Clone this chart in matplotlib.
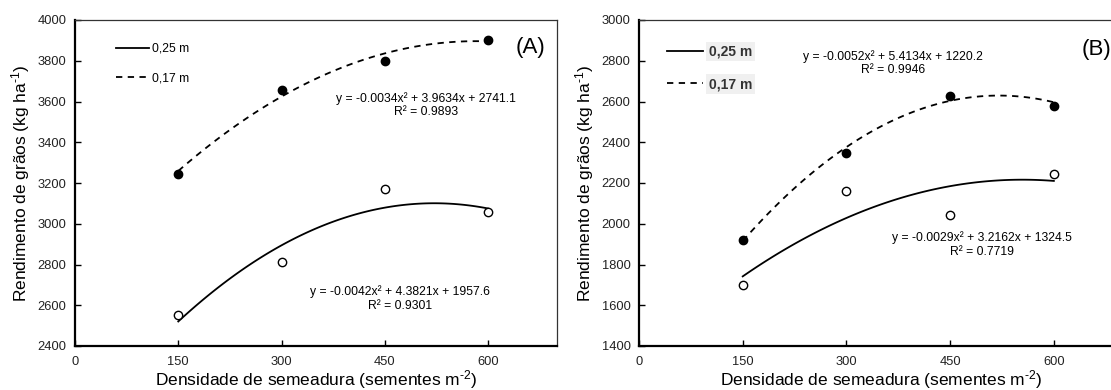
import numpy as np
import matplotlib
matplotlib.use("Agg")
import matplotlib.pyplot as plt

plt.rcParams['font.family'] = ['Liberation Sans', 'DejaVu Sans']
plt.rcParams['mathtext.fontset'] = 'custom'
plt.rcParams['mathtext.rm'] = 'Liberation Sans'
plt.rcParams['mathtext.it'] = 'Liberation Sans'

# dados
densidade = [150, 300, 450, 600]

# (A)
a_017 = [3245, 3658, 3798, 3900]
a_025 = [2550, 2812, 3172, 3060]
a_coef_017 = [-0.0034, 3.9634, 2741.1]
a_coef_025 = [-0.0042, 4.3821, 1957.6]
a_eq_017 = ["y = -0.0034x² + 3.9634x + 2741.1", "R² = 0.9893"]
a_eq_025 = ["y = -0.0042x² + 4.3821x + 1957.6", "R² = 0.9301"]

# (B)
b_017 = [1922, 2347, 2626, 2580]
b_025 = [1697, 2159, 2045, 2246]
b_coef_017 = [-0.0052, 5.4134, 1220.2]
b_coef_025 = [-0.0029, 3.2162, 1324.5]
b_eq_017 = ["y = -0.0052x² + 5.4134x + 1220.2", "R² = 0.9946"]
b_eq_025 = ["y = -0.0029x² + 3.2162x + 1324.5", "R² = 0.7719"]

xticks = [0, 150, 300, 450, 600]
ylab = r'Rendimento de grãos (kg ha$^{\text{-}1}$)'
xlab = r'Densidade de semeadura (sementes m$^{\text{-}2}$)'

W, H = 1111, 390
fig = plt.figure(figsize=(W / 100, H / 100), dpi=100)

ax_a = fig.add_axes([75 / W, 44 / H, 482 / W, 326 / H])
ax_b = fig.add_axes([639 / W, 44 / H, 484 / W, 326 / H])

DASH = (3.5, 3)


def draw_panel(ax, y17, y25, c17, c25, ylim, yticks):
    xs = np.linspace(densidade[0], densidade[-1], 120)
    ax.plot(xs, np.polyval(c25, xs), color='black', lw=1.3, label='0,25 m')
    ax.plot(xs, np.polyval(c17, xs), color='black', lw=1.3,
            linestyle=(0, DASH), label='0,17 m')
    ax.plot(densidade, y17, 'o', ms=6, color='black', zorder=3)
    ax.plot(densidade, y25, 'o', ms=6, mfc='white', mec='black', mew=1.0, zorder=3)

    ax.set_xlim(0, 700)
    ax.set_ylim(*ylim)
    ax.set_xticks(xticks)
    ax.set_yticks(yticks)
    ax.tick_params(direction='in', length=4, width=1, labelsize=9.3,
                   labelcolor='#222222')
    ax.tick_params(axis='x', pad=7)
    ax.tick_params(axis='y', pad=6)
    for s in ['left', 'bottom']:
        ax.spines[s].set_linewidth(1.6)
    for s in ['top', 'right']:
        ax.spines[s].set_linewidth(0.9)
        ax.spines[s].set_color('#333333')
    ax.set_ylabel(ylab, fontsize=12.5, labelpad=4)
    ax.set_xlabel(xlab, fontsize=12.5, labelpad=0)


draw_panel(ax_a, a_017, a_025, a_coef_017, a_coef_025, (2400, 4000),
           np.arange(2400, 4001, 200))
draw_panel(ax_b, b_017, b_025, b_coef_017, b_coef_025, (1400, 3000),
           np.arange(1400, 3001, 200))

# equações
eq_fs = 8.7
ax_a.text(510, 3612, a_eq_017[0], ha='center', va='center', fontsize=eq_fs)
ax_a.text(510, 3550, a_eq_017[1], ha='center', va='center', fontsize=eq_fs)
ax_a.text(472, 2665, a_eq_025[0], ha='center', va='center', fontsize=eq_fs)
ax_a.text(472, 2597, a_eq_025[1], ha='center', va='center', fontsize=eq_fs)
ax_b.text(367, 2821, b_eq_017[0], ha='center', va='center', fontsize=eq_fs)
ax_b.text(367, 2753, b_eq_017[1], ha='center', va='center', fontsize=eq_fs)
ax_b.text(496, 1931, b_eq_025[0], ha='center', va='center', fontsize=eq_fs)
ax_b.text(496, 1860, b_eq_025[1], ha='center', va='center', fontsize=eq_fs)

ax_a.text(662, 3863, '(A)', ha='center', va='center', fontsize=16)
ax_b.text(661, 2856, '(B)', ha='center', va='center', fontsize=16)

# legendas
leg_a = ax_a.legend(loc='upper left', bbox_to_anchor=(0.085, 0.93), frameon=False,
                    fontsize=8.7, handlelength=2.7, handletextpad=0.3,
                    labelspacing=1.45, borderpad=0, borderaxespad=0)
leg_b = ax_b.legend(loc='upper left', bbox_to_anchor=(0.058, 0.925), frameon=False,
                    prop={'size': 10, 'weight': 'bold'}, handlelength=2.6,
                    handletextpad=0.4, labelspacing=1.35, borderpad=0, borderaxespad=0)
for t in leg_b.get_texts():
    t.set_color('#333333')
    t.set_bbox(dict(facecolor='#f0f0f0', edgecolor='none', pad=2))

fig.savefig('out.png', dpi=100)
